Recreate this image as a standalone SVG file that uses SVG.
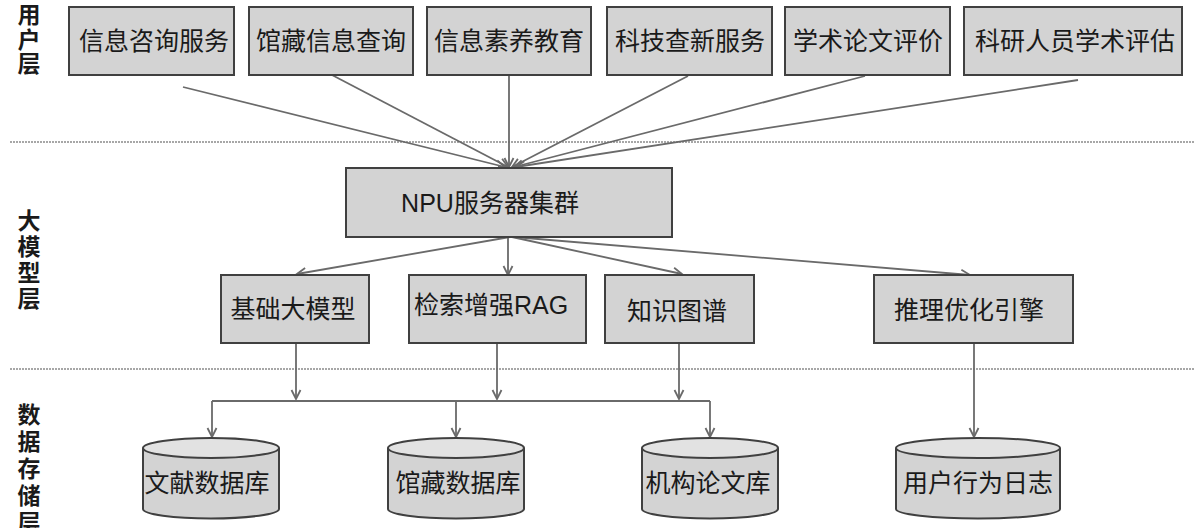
<svg xmlns="http://www.w3.org/2000/svg" width="1197" height="528" viewBox="0 0 1197 528">
<defs>
<style>
.bg{fill:#ffffff}
.box{fill:#d3d3d3;stroke:#404040;stroke-width:2}
.cyl{fill:#d3d3d3;stroke:#404040;stroke-width:2}
.cyltop{fill:#e2e2e2;stroke:#404040;stroke-width:2}
.t{font-family:"Liberation Sans","Noto Sans CJK SC",sans-serif;font-size:25px;fill:#1a1a1a;text-anchor:middle}
.lab{font-family:"Noto Sans CJK SC","Liberation Sans",sans-serif;font-size:23px;font-weight:bold;fill:#1a1a1a;writing-mode:vertical-rl;text-anchor:start}
.sep{stroke:#8a8a8a;stroke-width:1.5;stroke-dasharray:2 1;fill:none}
.c{stroke:#6a6a6a;stroke-width:1.8;fill:none}
.a{stroke:#6a6a6a;stroke-width:1.8;fill:none;marker-end:url(#arr)}
</style>
<marker id="arr" markerUnits="userSpaceOnUse" markerWidth="12" markerHeight="12" refX="10" refY="6" orient="auto">
<path d="M1,1.5 L10,6 L1,10.5" fill="none" stroke="#6a6a6a" stroke-width="1.8"/>
</marker>
</defs>
<rect class="bg" x="0" y="0" width="1197" height="528"/>

<g id="layers">
<line class="sep" x1="10" y1="142" x2="1195" y2="142"/>
<line class="sep" x1="10" y1="369" x2="1195" y2="369"/>
<text class="lab" x="29" y="3" letter-spacing="1.5">用户层</text>
<text class="lab" x="29" y="209" letter-spacing="3">大模型层</text>
<text class="lab" x="29" y="403" letter-spacing="4">数据存储层</text>
</g>

<g id="connectors">
<path class="a" d="M183,87 L505,167"/>
<path class="a" d="M332,75 L508,167"/>
<path class="a" d="M509,75 L509,167"/>
<path class="a" d="M688,76 L512,167"/>
<path class="a" d="M865,76 L514,167"/>
<path class="a" d="M1078,80 L516,167"/>
<path class="a" d="M510,237 L297,274"/>
<path class="a" d="M508,237 L508,275"/>
<path class="a" d="M512,237 L682,274"/>
<path class="a" d="M514,237 L970,275"/>
<path class="a" d="M296,343 L296,399"/>
<path class="a" d="M497,343 L497,399"/>
<path class="a" d="M679,343 L679,399"/>
<path class="a" d="M974,343 L974,437"/>
<path class="c" d="M212,401 L710,401"/>
<path class="a" d="M212,401 L212,437"/>
<path class="a" d="M456,401 L456,437"/>
<path class="a" d="M710,401 L710,437"/>
</g>

<g id="n-xxzx"><rect class="box" x="69" y="7" width="165" height="68"/><text class="t" x="154" y="50">信息咨询服务</text></g>
<g id="n-gcxx"><rect class="box" x="249" y="7" width="164" height="68"/><text class="t" x="331" y="50">馆藏信息查询</text></g>
<g id="n-xxsy"><rect class="box" x="427" y="7" width="164" height="68"/><text class="t" x="509" y="50">信息素养教育</text></g>
<g id="n-kjcx"><rect class="box" x="607" y="7" width="165" height="68"/><text class="t" x="690" y="50">科技查新服务</text></g>
<g id="n-xslw"><rect class="box" x="785" y="7" width="165" height="68"/><text class="t" x="868" y="50">学术论文评价</text></g>
<g id="n-kyry"><rect class="box" x="964" y="7" width="218" height="68"/><text class="t" x="1075" y="50">科研人员学术评估</text></g>

<g id="n-npu"><rect class="box" x="346" y="168" width="326" height="69"/><text class="t" x="490" y="212">NPU服务器集群</text></g>

<g id="n-jcdmx"><rect class="box" x="221" y="275" width="148" height="68"/><text class="t" x="293" y="318">基础大模型</text></g>
<g id="n-rag"><rect class="box" x="409" y="275" width="177" height="68"/><text class="t" x="491" y="314">检索增强RAG</text></g>
<g id="n-zstp"><rect class="box" x="605" y="275" width="149" height="68"/><text class="t" x="677" y="320">知识图谱</text></g>
<g id="n-tlyh"><rect class="box" x="874" y="275" width="199" height="68"/><text class="t" x="969" y="319">推理优化引擎</text></g>

<g id="n-wxsjk"><path class="cyl" d="M143,448 L143,509 A68,9.5 0 0 0 279,509 L279,448"/><ellipse class="cyltop" cx="211" cy="448" rx="68" ry="10"/><text class="t" x="207" y="492">文献数据库</text></g>
<g id="n-gcsjk"><path class="cyl" d="M388,448 L388,509 A68,9.5 0 0 0 524,509 L524,448"/><ellipse class="cyltop" cx="456" cy="448" rx="68" ry="10"/><text class="t" x="458" y="492">馆藏数据库</text></g>
<g id="n-jglwk"><path class="cyl" d="M642,448 L642,509 A68,9.5 0 0 0 778,509 L778,448"/><ellipse class="cyltop" cx="710" cy="448" rx="68" ry="10"/><text class="t" x="708" y="492">机构论文库</text></g>
<g id="n-yhxw"><path class="cyl" d="M896,448 L896,509 A82,9.5 0 0 0 1060,509 L1060,448"/><ellipse class="cyltop" cx="978" cy="448" rx="82" ry="10"/><text class="t" x="978" y="492">用户行为日志</text></g>
</svg>
